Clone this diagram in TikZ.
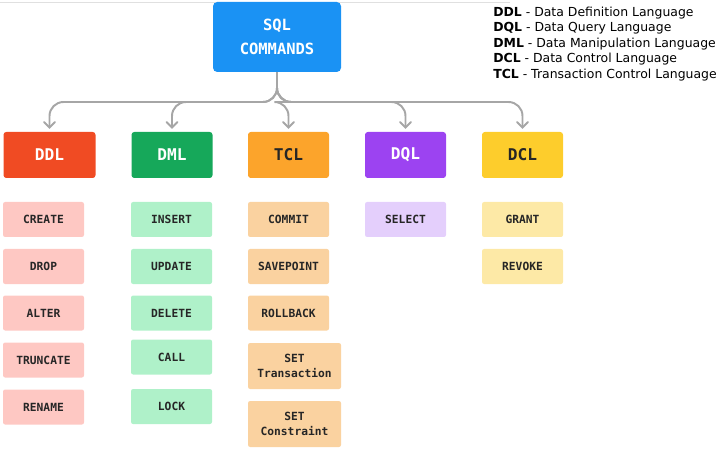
\documentclass[tikz,border=0pt]{standalone}
\usepackage{fontspec}
\setmainfont{DejaVu Sans}
\newfontfamily\boxfont{DejaVu Sans Mono}
\usepackage{tikz}
\usetikzlibrary{arrows,calc,positioning}
\definecolor{sqlblue}{HTML}{1A92F4}
\definecolor{ddlhead}{HTML}{F04B23}
\definecolor{dmlhead}{HTML}{16A85A}
\definecolor{tclhead}{HTML}{FCA42B}
\definecolor{dqlhead}{HTML}{9C43F1}
\definecolor{dclhead}{HTML}{FDCD2C}
\definecolor{ddlitem}{HTML}{FEC8C3}
\definecolor{dmlitem}{HTML}{AFF1C9}
\definecolor{tclitem}{HTML}{FAD2A0}
\definecolor{dqlitem}{HTML}{E4CFFC}
\definecolor{dclitem}{HTML}{FDE9A6}
\definecolor{linkgray}{HTML}{A6A6A6}
\newcommand{\px}{0.025cm}

\begin{document}
\begin{tikzpicture}[x=0.025cm,y=-0.025cm,
    head/.style={rectangle,rounded corners=2pt,minimum width=81*\px,minimum height=46*\px,
      font=\boxfont\bfseries\fontsize{11.5}{14}\selectfont,inner sep=0pt},
    item/.style={rectangle,rounded corners=1.5pt,minimum width=81*\px,minimum height=35*\px,
      font=\boxfont\bfseries\fontsize{8}{10.5}\selectfont,text=black!85,align=center,inner sep=0pt},
    link/.style={draw=linkgray,line width=1.4pt,rounded corners=14*\px,-angle 90,shorten >=2pt}]
  \useasboundingbox (0,0) rectangle (720,451);
  \draw[black!12,line width=0.6pt] (0,2) -- (510,2);

  % root and legend
  \node[rectangle,rounded corners=3pt,fill=sqlblue,text=white,minimum width=128*\px,minimum height=70*\px,
    font=\boxfont\bfseries\fontsize{11}{17}\selectfont,align=center] (sql) at (277,37) {SQL\\COMMANDS};
  \node[anchor=north west,align=left,inner sep=0pt,font=\fontsize{8.85}{11}\selectfont] (legend) at (493,6.5) {
    \textbf{DDL} - Data Definition Language\\
    \textbf{DQL} - Data Query Language\\
    \textbf{DML} - Data Manipulation Language\\
    \textbf{DCL} - Data Control Language\\
    \textbf{TCL} - Transaction Control Language};

  % command groups
  \node[head,fill=ddlhead,text=white,minimum width=92*\px] (ddl) at (49.5,155) {DDL};
  \node[head,fill=dmlhead,text=white] (dml) at (172,155) {DML};
  \node[head,fill=tclhead,text=black!85] (tcl) at (288.5,155) {TCL};
  \node[head,fill=dqlhead,text=white] (dql) at (405.5,155) {DQL};
  \node[head,fill=dclhead,text=black!85] (dcl) at (522.5,155) {DCL};

  \coordinate (bus) at (277,102);
  \foreach \g in {ddl,dml,tcl,dql,dcl}
    \draw[link] (sql.south) -- (sql.south |- bus) -- (\g.north |- bus) -- (\g.north);

  % commands
  \node[item,fill=ddlitem] (create) at (43.5,219.5) {CREATE};
  \node[item,fill=ddlitem] (drop) at (43.5,266.5) {DROP};
  \node[item,fill=ddlitem] (alter) at (43.5,313) {ALTER};
  \node[item,fill=ddlitem] (truncate) at (43.5,360) {TRUNCATE};
  \node[item,fill=ddlitem] (rename) at (43.5,407) {RENAME};

  \node[item,fill=dmlitem] (insert) at (171.5,219.5) {INSERT};
  \node[item,fill=dmlitem] (update) at (171.5,266.5) {UPDATE};
  \node[item,fill=dmlitem] (delete) at (171.5,313) {DELETE};
  \node[item,fill=dmlitem] (call) at (171.5,357) {CALL};
  \node[item,fill=dmlitem] (lock) at (171.5,406.5) {LOCK};

  \node[item,fill=tclitem] (commit) at (288.5,219.5) {COMMIT};
  \node[item,fill=tclitem] (savepoint) at (288.5,266.5) {SAVEPOINT};
  \node[item,fill=tclitem] (rollback) at (288.5,313) {ROLLBACK};
  \node[item,fill=tclitem,minimum width=93*\px,minimum height=46*\px] (settrans) at (294.5,366) {SET\\Transaction};
  \node[item,fill=tclitem,minimum width=93*\px,minimum height=46*\px] (setcons) at (294.5,424) {SET\\Constraint};

  \node[item,fill=dqlitem] (select) at (405.5,219.5) {SELECT};

  \node[item,fill=dclitem] (grant) at (522.5,219.5) {GRANT};
  \node[item,fill=dclitem] (revoke) at (522.5,266.5) {REVOKE};
\end{tikzpicture}
\end{document}
